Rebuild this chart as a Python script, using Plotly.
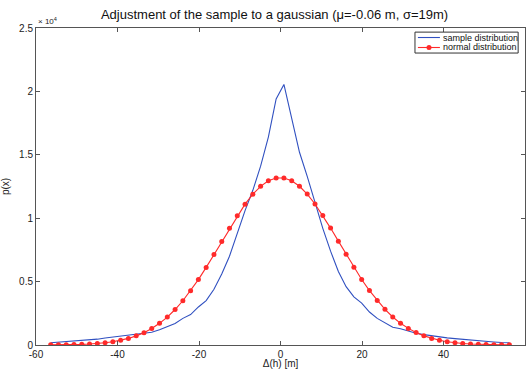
import plotly.graph_objects as go

# x positions (m) shared by both series
dh = [-56.40, -54.49, -52.58, -50.68, -48.77, -46.86, -44.95, -43.04, -41.14, -39.23,
      -37.32, -35.41, -33.50, -31.60, -29.69, -27.78, -25.87, -23.96, -22.06, -20.15,
      -18.24, -16.33, -14.42, -12.52, -10.61, -8.70, -6.79, -4.88, -2.98, -1.07,
      0.84, 2.75, 4.66, 6.56, 8.47, 10.38, 12.29, 14.20, 16.10, 18.01,
      19.92, 21.83, 23.74, 25.64, 27.55, 29.46, 31.37, 33.28, 35.18, 37.09,
      39.00, 40.91, 42.82, 44.72, 46.63, 48.54, 50.45, 52.36, 54.26, 56.17]

# sample distribution (x 10^4)
sample = [0.018, 0.022, 0.026, 0.030, 0.034, 0.040, 0.046, 0.055, 0.062, 0.073,
          0.078, 0.084, 0.090, 0.100, 0.120, 0.145, 0.170, 0.210, 0.240, 0.300,
          0.350, 0.440, 0.560, 0.700, 0.880, 1.060, 1.220, 1.410, 1.640, 1.940,
          2.055, 1.790, 1.520, 1.330, 1.120, 0.920, 0.740, 0.580, 0.460, 0.380,
          0.330, 0.260, 0.210, 0.175, 0.140, 0.128, 0.110, 0.092, 0.082, 0.072,
          0.064, 0.056, 0.050, 0.044, 0.038, 0.033, 0.029, 0.024, 0.020, 0.018]

# normal distribution (x 10^4)
normal = [0.001, 0.001, 0.002, 0.003, 0.005, 0.008, 0.012, 0.018, 0.026, 0.037,
          0.052, 0.072, 0.097, 0.130, 0.171, 0.220, 0.280, 0.349, 0.428, 0.516,
          0.612, 0.713, 0.817, 0.920, 1.020, 1.111, 1.189, 1.251, 1.295, 1.317,
          1.317, 1.295, 1.252, 1.190, 1.112, 1.021, 0.922, 0.819, 0.715, 0.613,
          0.517, 0.429, 0.350, 0.281, 0.221, 0.171, 0.131, 0.098, 0.072, 0.052,
          0.037, 0.026, 0.018, 0.012, 0.008, 0.005, 0.003, 0.002, 0.001, 0.001]

series_names = ["sample distribution", "normal distribution"]
series_colors = ["#3050C0", "#FF2A2A"]

xticks = [-60, -40, -20, 0, 20, 40, 60]
xticklabels = ["-60", "-40", "-20", "0", "20", "40", "60"]
yticks = [0, 0.5, 1, 1.5, 2, 2.5]
yticklabels = ["0", "0.5", "1", "1.5", "2", "2.5"]

FONT = "Liberation Sans, Arial, sans-serif"
AX = "#555555"

fig = go.Figure()
fig.add_trace(go.Scatter(x=dh, y=sample, mode="lines", name=series_names[0],
                         line=dict(color=series_colors[0], width=1.1)))
fig.add_trace(go.Scatter(x=dh, y=normal, mode="lines+markers", name=series_names[1],
                         line=dict(color=series_colors[1], width=1.1),
                         marker=dict(color=series_colors[1], size=5, symbol="circle")))

fig.update_layout(
    width=528, height=369,
    margin=dict(l=36, r=3, t=28, b=24),
    paper_bgcolor="white", plot_bgcolor="white",
    font=dict(family=FONT, size=10, color="#222"),
    title=dict(text="Adjustment of the sample to a gaussian (\u03bc=-0.06 m, \u03c3=19m)",
               x=0.52, xanchor="center", y=0.962, yanchor="middle",
               font=dict(family=FONT, size=13, color="#111")),
    showlegend=False,
)
fig.update_xaxes(range=[-60, 60], tickvals=xticks, ticktext=xticklabels, ticks="inside", ticklen=4,
                 tickcolor=AX, showline=True, linecolor=AX, linewidth=1, mirror="allticks",
                 showgrid=False, zeroline=False,
                 title=dict(text="\u0394(h) [m]", standoff=0, font=dict(size=10)))
fig.update_yaxes(range=[0, 2.5], tickvals=yticks, ticktext=yticklabels, ticks="inside",
                 ticklen=4, tickcolor=AX, showline=True, linecolor=AX, linewidth=1,
                 mirror="allticks", showgrid=False, zeroline=False,
                 title=dict(text="p(x)", standoff=8, font=dict(size=10)))
fig.add_annotation(text="\u00d7 10<sup>4</sup>", xref="paper", yref="paper",
                   x=0.0, y=1.0, xanchor="left", yanchor="bottom", showarrow=False,
                   font=dict(family=FONT, size=8, color="#222"))

# compact MATLAB-style legend box
fig.add_shape(type="rect", xref="paper", yref="paper", x0=0.775, x1=0.986, y0=0.921, y1=0.987,
              line=dict(color="#333", width=1), fillcolor="white", layer="above")
leg_y = [0.970, 0.9385]
for i in range(2):
    fig.add_shape(type="line", xref="paper", yref="paper", x0=0.781, x1=0.826,
                  y0=leg_y[i], y1=leg_y[i], line=dict(color=series_colors[i], width=1.1),
                  layer="above")
    fig.add_annotation(text=series_names[i], xref="paper", yref="paper", x=0.829, y=leg_y[i],
                       xanchor="left", yanchor="middle", showarrow=False,
                       font=dict(family=FONT, size=9, color="#111"))
fig.add_shape(type="circle", xref="paper", yref="paper", xsizemode="pixel", ysizemode="pixel",
              xanchor=0.8037, yanchor=leg_y[1], x0=-2.5, x1=2.5, y0=-2.5, y1=2.5,
              fillcolor=series_colors[1], line=dict(color=series_colors[1], width=0),
              layer="above")

fig.write_html("out.html", config={"displayModeBar": False},
               post_script="document.body.style.margin='0';")
